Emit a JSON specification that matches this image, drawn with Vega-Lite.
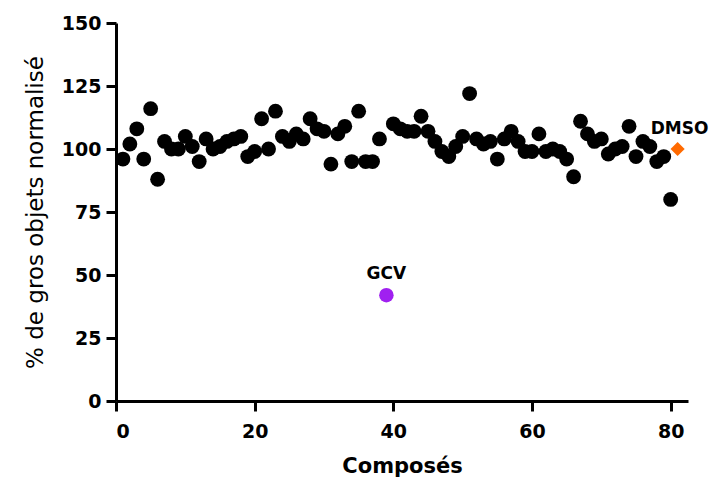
{
  "$schema": "https://vega.github.io/schema/vega-lite/v6.json",
  "width": 572,
  "height": 378,
  "autosize": "none",
  "padding": {"left": 116, "top": 23, "right": 22, "bottom": 83},
  "background": "white",
  "config": {"view": {"stroke": null}},
  "data": {"values": [
    {"x": 1, "y": 96, "group": "Composé"}, {"x": 2, "y": 102, "group": "Composé"}, {"x": 3, "y": 108, "group": "Composé"},
    {"x": 4, "y": 96, "group": "Composé"}, {"x": 5, "y": 116, "group": "Composé"}, {"x": 6, "y": 88, "group": "Composé"},
    {"x": 7, "y": 103, "group": "Composé"}, {"x": 8, "y": 100, "group": "Composé"}, {"x": 9, "y": 100, "group": "Composé"},
    {"x": 10, "y": 105, "group": "Composé"}, {"x": 11, "y": 101, "group": "Composé"}, {"x": 12, "y": 95, "group": "Composé"},
    {"x": 13, "y": 104, "group": "Composé"}, {"x": 14, "y": 100, "group": "Composé"}, {"x": 15, "y": 101, "group": "Composé"},
    {"x": 16, "y": 103, "group": "Composé"}, {"x": 17, "y": 104, "group": "Composé"}, {"x": 18, "y": 105, "group": "Composé"},
    {"x": 19, "y": 97, "group": "Composé"}, {"x": 20, "y": 99, "group": "Composé"}, {"x": 21, "y": 112, "group": "Composé"},
    {"x": 22, "y": 100, "group": "Composé"}, {"x": 23, "y": 115, "group": "Composé"}, {"x": 24, "y": 105, "group": "Composé"},
    {"x": 25, "y": 103, "group": "Composé"}, {"x": 26, "y": 106, "group": "Composé"}, {"x": 27, "y": 104, "group": "Composé"},
    {"x": 28, "y": 112, "group": "Composé"}, {"x": 29, "y": 108, "group": "Composé"}, {"x": 30, "y": 107, "group": "Composé"},
    {"x": 31, "y": 94, "group": "Composé"}, {"x": 32, "y": 106, "group": "Composé"}, {"x": 33, "y": 109, "group": "Composé"},
    {"x": 34, "y": 95, "group": "Composé"}, {"x": 35, "y": 115, "group": "Composé"}, {"x": 36, "y": 95, "group": "Composé"},
    {"x": 37, "y": 95, "group": "Composé"}, {"x": 38, "y": 104, "group": "Composé"}, {"x": 40, "y": 110, "group": "Composé"},
    {"x": 41, "y": 108, "group": "Composé"}, {"x": 42, "y": 107, "group": "Composé"}, {"x": 43, "y": 107, "group": "Composé"},
    {"x": 44, "y": 113, "group": "Composé"}, {"x": 45, "y": 107, "group": "Composé"}, {"x": 46, "y": 103, "group": "Composé"},
    {"x": 47, "y": 99, "group": "Composé"}, {"x": 48, "y": 97, "group": "Composé"}, {"x": 49, "y": 101, "group": "Composé"},
    {"x": 50, "y": 105, "group": "Composé"}, {"x": 51, "y": 122, "group": "Composé"}, {"x": 52, "y": 104, "group": "Composé"},
    {"x": 53, "y": 102, "group": "Composé"}, {"x": 54, "y": 103, "group": "Composé"}, {"x": 55, "y": 96, "group": "Composé"},
    {"x": 56, "y": 104, "group": "Composé"}, {"x": 57, "y": 107, "group": "Composé"}, {"x": 58, "y": 103, "group": "Composé"},
    {"x": 59, "y": 99, "group": "Composé"}, {"x": 60, "y": 99, "group": "Composé"}, {"x": 61, "y": 106, "group": "Composé"},
    {"x": 62, "y": 99, "group": "Composé"}, {"x": 63, "y": 100, "group": "Composé"}, {"x": 64, "y": 99, "group": "Composé"},
    {"x": 65, "y": 96, "group": "Composé"}, {"x": 66, "y": 89, "group": "Composé"}, {"x": 67, "y": 111, "group": "Composé"},
    {"x": 68, "y": 106, "group": "Composé"}, {"x": 69, "y": 103, "group": "Composé"}, {"x": 70, "y": 104, "group": "Composé"},
    {"x": 71, "y": 98, "group": "Composé"}, {"x": 72, "y": 100, "group": "Composé"}, {"x": 73, "y": 101, "group": "Composé"},
    {"x": 74, "y": 109, "group": "Composé"}, {"x": 75, "y": 97, "group": "Composé"}, {"x": 76, "y": 103, "group": "Composé"},
    {"x": 77, "y": 101, "group": "Composé"}, {"x": 78, "y": 95, "group": "Composé"}, {"x": 79, "y": 97, "group": "Composé"},
    {"x": 80, "y": 80, "group": "Composé"},
    {"x": 39, "y": 42, "group": "GCV", "label": "GCV"},
    {"x": 81, "y": 100, "group": "DMSO", "label": "DMSO"}
  ]},
  "encoding": {
    "x": {
      "field": "x", "type": "quantitative",
      "scale": {"domain": [0, 82.5], "nice": false, "zero": false},
      "axis": {
        "values": [0, 20, 40, 60, 80], "grid": false, "domainWidth": 3, "domainColor": "black",
        "tickWidth": 3, "tickColor": "black", "tickSize": 10, "labelFont": "DejaVu Sans", "labelFontWeight": "bold",
        "labelFontSize": 19, "labelColor": "black", "labelPadding": 11, "title": "Composés",
        "titleFont": "DejaVu Sans", "titleFontSize": 21, "titleFontWeight": "bold", "titleColor": "black", "titlePadding": 14
      }
    },
    "y": {
      "field": "y", "type": "quantitative",
      "scale": {"domain": [0, 150], "nice": false},
      "axis": {
        "values": [0, 25, 50, 75, 100, 125, 150], "grid": false, "domainWidth": 3, "domainColor": "black",
        "tickWidth": 3, "tickColor": "black", "tickSize": 10, "labelFont": "DejaVu Sans", "labelFontWeight": "bold",
        "labelFontSize": 19, "labelColor": "black", "labelPadding": 5, "title": "% de gros objets normalisé",
        "titleFont": "DejaVu Sans", "titleFontSize": 23, "titleFontWeight": 500, "titleColor": "black", "titlePadding": 14
      }
    }
  },
  "layer": [
    {
      "mark": {"type": "point", "filled": true, "opacity": 1},
      "encoding": {
        "color": {"field": "group", "type": "nominal", "scale": {"domain": ["Composé", "GCV", "DMSO"], "range": ["#000000", "#a020f0", "#ff6a00"]}, "legend": null},
        "shape": {"field": "group", "type": "nominal", "scale": {"domain": ["Composé", "GCV", "DMSO"], "range": ["circle", "circle", "diamond"]}, "legend": null},
        "size": {"field": "group", "type": "nominal", "scale": {"domain": ["Composé", "GCV", "DMSO"], "range": [220, 200, 300]}, "legend": null}
      }
    },
    {
      "transform": [{"filter": "datum.label === 'GCV'"}],
      "mark": {"type": "text", "font": "DejaVu Sans", "fontWeight": "bold", "fontSize": 17, "dy": -21, "color": "black"},
      "encoding": {"text": {"field": "label"}}
    },
    {
      "transform": [{"filter": "datum.label === 'DMSO'"}],
      "mark": {"type": "text", "font": "DejaVu Sans", "fontWeight": "bold", "fontSize": 17, "dy": -20, "dx": 2, "color": "black"},
      "encoding": {"text": {"field": "label"}}
    }
  ]
}
